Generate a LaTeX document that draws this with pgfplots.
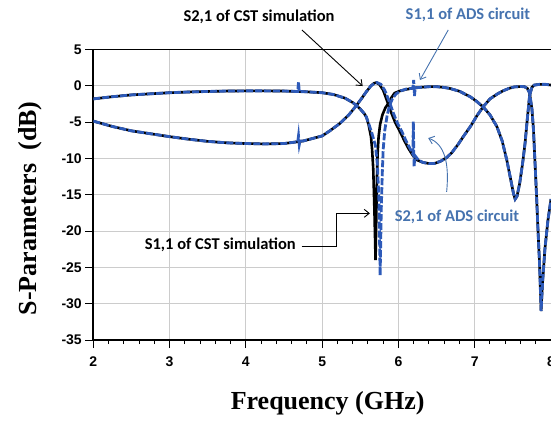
\documentclass[border=0pt]{standalone}
\usepackage{pgfplots}
\pgfplotsset{compat=1.18}
\usepackage{fontspec}
\setmainfont{Liberation Sans}
\newfontfamily\labelfont{Liberation Serif}
\newfontfamily\notefont{Carlito}
\usetikzlibrary{arrows.meta,calc}
\definecolor{adsblue}{RGB}{45,90,185}
\definecolor{noteblue}{RGB}{70,115,175}

% CST simulation, S1,1
\pgfplotstableread{
x y
2 -1.8
2.25 -1.5
2.5 -1.25
2.75 -1.1
3 -0.95
3.25 -0.85
3.5 -0.78
3.75 -0.72
4 -0.7
4.25 -0.7
4.5 -0.72
4.75 -0.8
5 -0.95
5.15 -1.2
5.3 -1.7
5.4 -2.3
5.45 -2.7
5.5 -3.2
5.55 -3.8
5.58 -4.3
5.61 -5.4
5.64 -7
5.655 -8.8
5.67 -11.5
5.685 -17
5.70 -24
5.71 -18
5.718 -13
5.726 -9.5
5.74 -7
5.76 -5.3
5.79 -4.0
5.83 -3.0
5.87 -2.4
5.91 -1.6
5.95 -1.0
6.02 -0.7
6.1 -0.5
6.2 -0.3
6.3 -0.2
6.4 -0.12
6.5 -0.12
6.58 -0.2
6.67 -0.35
6.8 -0.75
6.94 -1.5
7.02 -2.1
7.11 -2.9
7.2 -4.0
7.29 -5.6
7.36 -7.6
7.42 -10.2
7.47 -12.8
7.51 -14.9
7.53 -15.6
7.555 -15.2
7.59 -13.4
7.63 -10.5
7.66 -7.9
7.69 -4.5
7.72 -1.3
7.75 -0.2
7.78 0.1
7.85 0.2
7.93 0.2
8 0.1
}\cstsoneone

% CST simulation, S2,1
\pgfplotstableread{
x y
2 -4.86
2.25 -5.6
2.5 -6.2
2.75 -6.6
3 -7.0
3.25 -7.35
3.5 -7.65
3.75 -7.85
4 -7.95
4.25 -8.0
4.5 -7.95
4.75 -7.6
5 -6.9
5.1 -6.2
5.23 -5.2
5.35 -4.0
5.45 -2.7
5.52 -1.7
5.58 -0.8
5.64 0.0
5.68 0.35
5.71 0.45
5.75 0.2
5.8 -0.6
5.845 -1.9
5.88 -2.9
5.91 -3.8
5.96 -5.1
6.02 -6.3
6.08 -7.6
6.13 -8.6
6.19 -9.6
6.24 -10.2
6.32 -10.55
6.4 -10.7
6.47 -10.7
6.55 -10.4
6.63 -9.9
6.7 -9.2
6.78 -8.1
6.85 -7.0
6.95 -5.5
7.03 -4.1
7.11 -2.9
7.2 -1.8
7.3 -1.1
7.37 -0.7
7.45 -0.35
7.52 -0.15
7.6 -0.1
7.65 -0.12
7.69 -0.35
7.72 -1.0
7.75 -3.2
7.77 -6
7.79 -10.5
7.81 -15
7.83 -20
7.85 -24.5
7.87 -31
7.89 -27
7.92 -22.5
7.96 -18.5
8 -15.6
}\cststwoone

% ADS circuit, S1,1
\pgfplotstableread{
x y
2 -1.8
2.25 -1.5
2.5 -1.25
2.75 -1.1
3 -0.95
3.25 -0.85
3.5 -0.78
3.75 -0.72
4 -0.7
4.25 -0.7
4.5 -0.72
4.68 -0.78
4.69 0.5
4.70 -0.8
4.75 -0.8
5 -0.95
5.15 -1.2
5.3 -1.7
5.4 -2.3
5.45 -2.7
5.5 -3.2
5.55 -3.8
5.58 -4.3
5.62 -5.5
5.66 -6.8
5.70 -8.3
5.725 -11
5.745 -16
5.76 -26.1
5.775 -17
5.79 -11.5
5.80 -8.8
5.82 -6.2
5.85 -4.2
5.88 -2.8
5.92 -1.8
5.97 -1.1
6.03 -0.7
6.1 -0.45
6.19 -0.32
6.20 0.8
6.21 -1.4
6.22 -0.28
6.3 -0.2
6.4 -0.12
6.5 -0.12
6.58 -0.2
6.67 -0.35
6.8 -0.75
6.94 -1.5
7.02 -2.1
7.11 -2.9
7.2 -4.0
7.29 -5.6
7.36 -7.6
7.42 -10.2
7.47 -12.8
7.51 -14.9
7.53 -15.6
7.555 -15.2
7.59 -13.4
7.63 -10.5
7.66 -7.9
7.69 -4.5
7.72 -1.3
7.75 -0.2
7.78 0.1
7.85 0.2
7.93 0.2
8 0.1
}\adssoneone

% ADS circuit, S2,1
\pgfplotstableread{
x y
2 -4.86
2.25 -5.6
2.5 -6.2
2.75 -6.6
3 -7.0
3.25 -7.35
3.5 -7.65
3.75 -7.85
4 -7.95
4.25 -8.0
4.5 -7.95
4.68 -7.7
4.69 -6.9
4.70 -8.1
4.71 -7.6
4.75 -7.6
5 -6.9
5.1 -6.2
5.23 -5.2
5.35 -4.0
5.45 -2.7
5.52 -1.7
5.58 -0.8
5.64 0.0
5.69 0.35
5.72 0.45
5.77 0.2
5.82 -0.6
5.87 -1.9
5.905 -2.9
5.935 -3.8
5.985 -5.1
6.045 -6.3
6.1 -7.6
6.15 -8.6
6.19 -9.4
6.195 -4.9
6.205 -11.2
6.215 -9.6
6.26 -10.2
6.32 -10.55
6.4 -10.7
6.47 -10.7
6.55 -10.4
6.63 -9.9
6.7 -9.2
6.78 -8.1
6.85 -7.0
6.95 -5.5
7.03 -4.1
7.11 -2.9
7.2 -1.8
7.3 -1.1
7.37 -0.7
7.45 -0.35
7.52 -0.15
7.6 -0.1
7.65 -0.12
7.69 -0.35
7.72 -1.0
7.75 -3.2
7.77 -6
7.79 -10.5
7.81 -15
7.83 -20
7.85 -24.5
7.87 -31
7.89 -27
7.92 -22.5
7.96 -18.5
8 -15.6
}\adsstwoone

\begin{document}
\begin{tikzpicture}
\begin{axis}[
  width=457.7pt, height=290.5pt, scale only axis,
  xmin=2, xmax=8, ymin=-35, ymax=5,
  xtick={2,3,...,8}, ytick={-35,-30,...,5},
  minor x tick num=4,
  axis y line*=left, axis x line*=box, xtick pos=left,
  tick align=outside,
  major tick length=8pt, minor tick length=4pt,
  every tick/.style={black, line width=1pt},
  axis line style={black, line width=1.8pt},
  grid=major, major grid style={gray!40, line width=0.9pt},
  /pgf/number format/assume math mode=true,
  tick label style={font=\fontsize{14}{14}\selectfont\bfseries},
  xticklabel style={yshift=-5pt},
  xlabel={Frequency\ (GHz)}, ylabel={S-Parameters\ \ (dB)},
  label style={font=\labelfont\fontsize{26}{26}\selectfont\bfseries},
  xlabel style={at={(axis description cs:0.512,-0.217)}, anchor=center},
  ylabel style={at={(axis description cs:-0.138,0.453)}, anchor=center},
  clip mode=individual,
  every axis plot/.append style={no marks},
]
\addplot[black, line width=2.6pt] table {\cstsoneone};
\addplot[black, line width=2.6pt] table {\cststwoone};
\addplot[adsblue, line width=2.8pt, dash pattern=on 7pt off 2pt] table {\adssoneone};
\addplot[adsblue, line width=2.8pt, dash pattern=on 7pt off 2pt] table {\adsstwoone};

\coordinate (bl) at (rel axis cs:0,0);
\coordinate (tr) at (rel axis cs:1,1);

\begin{scope}[font=\notefont\fontsize{16.5}{16.5}\selectfont\bfseries]
\node[black] at (axis cs:4.172,9.55) {S2,1 of CST simulation};
\draw[black, line width=0.9pt, -{Straight Barb[length=5pt,width=8pt]}]
  (axis cs:4.735,7.69) -- (axis cs:5.531,-0.03);
\node[noteblue] at (axis cs:6.911,9.75) {S1,1 of ADS circuit};
\draw[noteblue, line width=0.9pt, -{Straight Barb[length=5pt,width=8pt]}]
  (axis cs:6.653,7.69) -- (axis cs:6.282,0.80);
\node[noteblue] at (axis cs:6.767,-18.07) {S2,1 of ADS circuit};
\draw[noteblue, line width=0.9pt, -{Straight Barb[length=5pt,width=8pt]}]
  (axis cs:6.632,-14.6) .. controls (axis cs:6.67,-10.5) and (axis cs:6.60,-8) .. (axis cs:6.39,-7.2);
\node[black, anchor=east] at (axis cs:4.70,-21.83) {S1,1 of CST simulation};
\draw[black, line width=0.9pt, -{Straight Barb[length=5pt,width=8pt]}]
  (axis cs:4.731,-22.07) -- (axis cs:5.181,-22.07) -- (axis cs:5.181,-17.56) -- (axis cs:5.626,-17.56);
\end{scope}
\end{axis}
\pgfresetboundingbox
\path[use as bounding box] ($(bl)+(-93.3pt,-80pt)$) rectangle ($(tr)+(0pt,49.5pt)$);
\end{tikzpicture}
\end{document}
